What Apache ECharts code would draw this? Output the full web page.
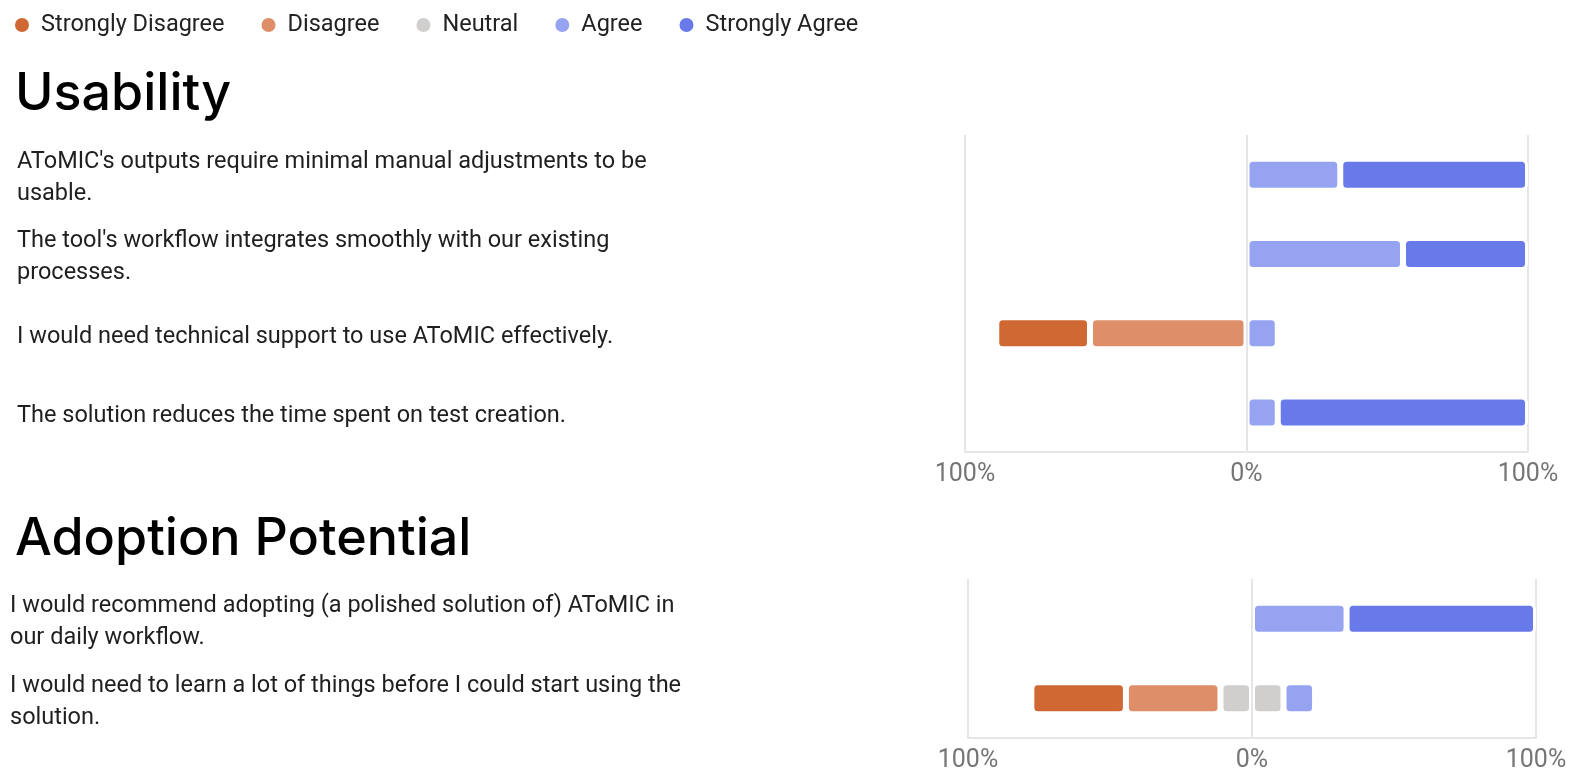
<!DOCTYPE html>
<html>
<head>
<meta charset="utf-8">
<title>Likert survey</title>
<script src="https://cdn.jsdelivr.net/npm/echarts@6/dist/echarts.min.js"></script>
<style>
  html, body { margin: 0; padding: 0; background: #fff; }
  #chart { width: 1577px; height: 783px; }
</style>
</head>
<body>
<div id="chart"></div>
<script>
// legend / answer scale
const answerNames = ['Strongly Disagree', 'Disagree', 'Neutral', 'Agree', 'Strongly Agree'];

// Usability block (percent of respondents)
const usabilityQuestions = [
  "AToMIC's outputs require minimal manual adjustments to be\nusable.",
  "The tool's workflow integrates smoothly with our existing\nprocesses.",
  "I would need technical support to use AToMIC effectively.",
  "The solution reduces the time spent on test creation."
];
const usabilitySD = [0, 0, 33.3, 0];
const usabilityD  = [0, 0, 55.6, 0];
const usabilityN  = [0, 0, 0, 0];
const usabilityA  = [33.3, 55.6, 11.1, 11.1];
const usabilitySA = [66.7, 44.4, 0, 88.9];

// Adoption Potential block
const adoptionQuestions = [
  "I would recommend adopting (a polished solution of) AToMIC in\nour daily workflow.",
  "I would need to learn a lot of things before I could start using the\nsolution."
];
const adoptionSD = [0, 33.3];
const adoptionD  = [0, 33.3];
const adoptionN  = [0, 22.2];
const adoptionA  = [33.3, 11.1];
const adoptionSA = [66.7, 0];

const xTicks = [-100, 0, 100];

const colors = {
  'Strongly Disagree': '#cf6832',
  'Disagree': '#de8e69',
  'Neutral': '#d0cfcd',
  'Agree': '#96a3f1',
  'Strongly Agree': '#6879ea'
};
const textFont = 'Roboto';
const gridLineColor = '#e6e6e6';

function toNeg(arr) { return arr.map(v => v ? -v : null); }
function toPos(arr) { return arr.map(v => v ? v : null); }
function half(arr) { return arr.map(v => v / 2); }

function bar(name, data, gridIdx, stack) {
  return {
    name: name,
    type: 'bar',
    stack: stack,
    xAxisIndex: gridIdx,
    yAxisIndex: gridIdx,
    barWidth: 32,
    silent: true,
    itemStyle: {
      color: colors[name],
      borderColor: '#fff',
      borderWidth: 3,
      borderRadius: 5
    },
    data: data
  };
}

function blockSeries(gridIdx, stack, sd, d, n, a, sa) {
  const first = bar('Neutral', toNeg(half(n)), gridIdx, stack);
  first.markLine = {
    silent: true,
    symbol: 'none',
    label: {show: false},
    lineStyle: {color: gridLineColor, width: 2, type: 'solid'},
    data: [{xAxis: 0}]
  };
  return [
    first,
    bar('Disagree', toNeg(d), gridIdx, stack),
    bar('Strongly Disagree', toNeg(sd), gridIdx, stack),
    bar('Neutral', toPos(half(n)), gridIdx, stack),
    bar('Agree', toPos(a), gridIdx, stack),
    bar('Strongly Agree', toPos(sa), gridIdx, stack)
  ];
}

function xAxisFor(gridIdx) {
  return {
    type: 'value',
    gridIndex: gridIdx,
    min: xTicks[0],
    max: xTicks[xTicks.length - 1],
    interval: 100,
    axisLine: {show: true, lineStyle: {color: gridLineColor, width: 2}},
    axisTick: {show: false},
    splitLine: {show: true, lineStyle: {color: gridLineColor, width: 2}},
    axisLabel: {
      margin: 10,
      fontFamily: textFont,
      fontSize: 25,
      color: '#757575',
      formatter: v => Math.abs(v) + '%'
    }
  };
}

function yAxisFor(gridIdx, cats, labelMargin) {
  return {
    type: 'category',
    gridIndex: gridIdx,
    inverse: true,
    data: cats,
    axisLine: {show: false},
    axisTick: {show: false},
    splitLine: {show: false},
    axisLabel: {
      interval: 0,
      align: 'left',
      margin: labelMargin,
      // nudge the question text a little below the bar centre
      formatter: v => v.split('\n').map(s => '{q|' + s + '}').join('\n'),
      rich: {
        q: {
          fontFamily: textFont,
          fontSize: 23.5,
          lineHeight: 32,
          color: '#1f1f1f',
          padding: [7, 0, 0, 0]
        }
      }
    }
  };
}

const chart = echarts.init(document.getElementById('chart'));

const option = {
  animation: false,
  backgroundColor: '#fff',
  title: [
    {
      text: 'Usability',
      left: 15, top: 68, padding: 0,
      textStyle: {fontFamily: 'Inter', fontWeight: 500, fontSize: 52, color: '#000'}
    },
    {
      text: 'Adoption Potential',
      left: 15, top: 513, padding: 0,
      textStyle: {fontFamily: 'Inter', fontWeight: 500, fontSize: 52, color: '#000'}
    }
  ],
  legend: {
    data: answerNames,
    left: 13, top: 13, padding: 0,
    icon: 'circle',
    itemWidth: 28, itemHeight: 16,
    itemGap: 35,
    selectedMode: false,
    textStyle: {fontFamily: textFont, fontSize: 23.5, color: '#222'}
  },
  grid: [
    {left: 965, right: 49, top: 135, height: 317, containLabel: false},
    {left: 968, right: 41, top: 579, height: 159, containLabel: false}
  ],
  xAxis: [xAxisFor(0), xAxisFor(1)],
  yAxis: [yAxisFor(0, usabilityQuestions, 948), yAxisFor(1, adoptionQuestions, 958)],
  series: [
    ...blockSeries(0, 'usability', usabilitySD, usabilityD, usabilityN, usabilityA, usabilitySA),
    ...blockSeries(1, 'adoption', adoptionSD, adoptionD, adoptionN, adoptionA, adoptionSA)
  ]
};

chart.setOption(option);
window.addEventListener('resize', () => chart.resize());
</script>
</body>
</html>
